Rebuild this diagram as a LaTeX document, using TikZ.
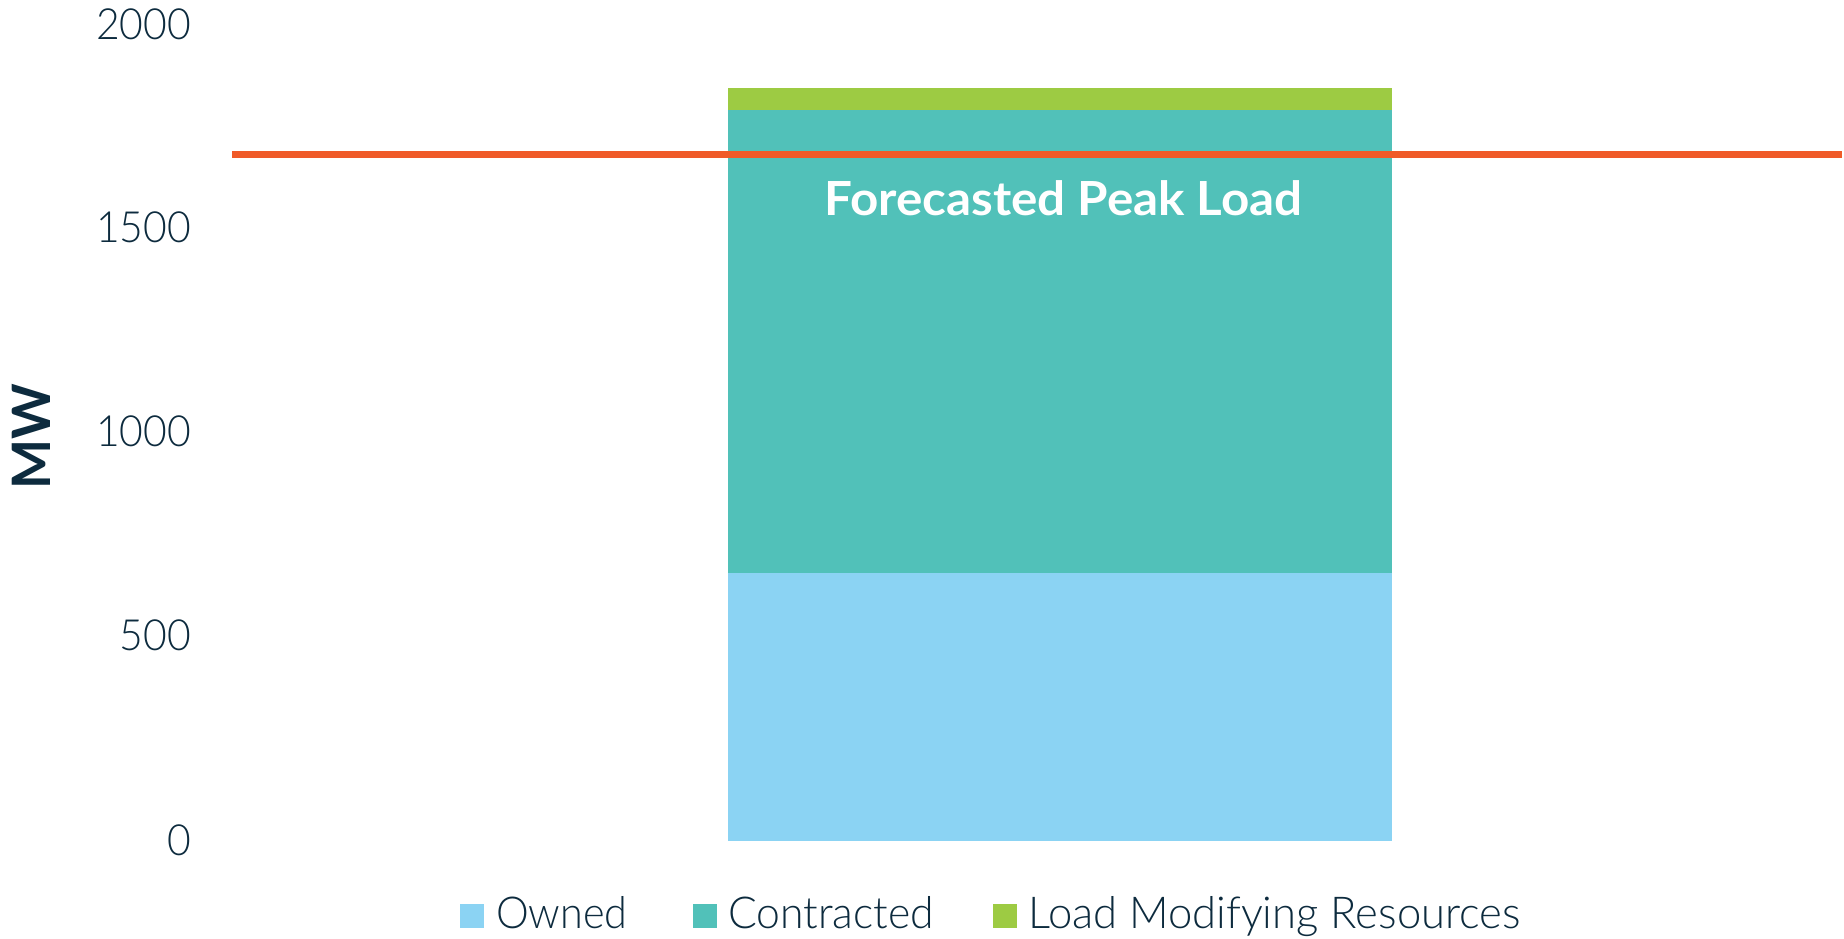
\documentclass[tikz,border=0pt]{standalone}
\usepackage{fontspec}
\setmainfont{Lato}
\newfontfamily\lightfont{Lato Light}
\definecolor{owned}{HTML}{8BD3F3}
\definecolor{contracted}{HTML}{51C1B9}
\definecolor{lmr}{HTML}{9DCB43}
\definecolor{peak}{HTML}{F05A28}
\definecolor{ink}{HTML}{0D2B3E}
% narrow a text horizontally by a factor
\newcommand{\narrow}[2]{\scalebox{#1}[1]{#2}}
\tikzset{
  tick/.style={anchor=base east, inner sep=0pt, text=ink, font=\lightfont\fontsize{43}{43}\selectfont},
  legtext/.style={anchor=base west, inner sep=0pt, text=ink, font=\lightfont\fontsize{44}{44}\selectfont},
}
\begin{document}
\begin{tikzpicture}[x=1pt, y=-1pt]
\useasboundingbox[fill=white] (0,0) rectangle (1844,938);
% stacked bar
\fill[owned] (728,573) rectangle (1391.5,841);
\fill[contracted] (728,110) rectangle (1391.5,573);
\fill[lmr] (728,88) rectangle (1391.5,110);
% forecasted peak load line
\coordinate (pl) at (232,154.5);
\coordinate (pr) at (1842,154.5);
\draw[peak, line width=7.7pt] (pl) -- (pr);
\node[anchor=base, inner sep=0pt, text=white, font=\bfseries\fontsize{47}{47}\selectfont] (plabel) at (1063.5,215) {\narrow{1.05}{Forecasted Peak Load}};
% y axis labels
\node[tick] (t2000) at (191,39) {\narrow{0.95}{2000}};
\node[tick] (t1500) at (191,242.3) {\narrow{0.95}{1500}};
\node[tick] (t1000) at (191,446.7) {\narrow{0.95}{1000}};
\node[tick] (t500) at (191,650.7) {\narrow{0.95}{500}};
\node[tick] (t0) at (191,855) {\narrow{0.95}{0}};
\node[rotate=90, inner sep=0pt, text=ink, font=\bfseries\fontsize{53}{53}\selectfont] (ylab) at (31,437) {MW};
% legend
\fill[owned] (460,904) rectangle (484,928);
\node[legtext] (lo) at (496,928) {\narrow{0.94}{Owned}};
\fill[contracted] (693,904) rectangle (717,928);
\node[legtext] (lc) at (728,928) {\narrow{0.97}{Contracted}};
\fill[lmr] (993,904) rectangle (1017,928);
\node[legtext] (ll) at (1028,928) {\narrow{0.99}{Load Modifying Resources}};
\end{tikzpicture}
\end{document}
